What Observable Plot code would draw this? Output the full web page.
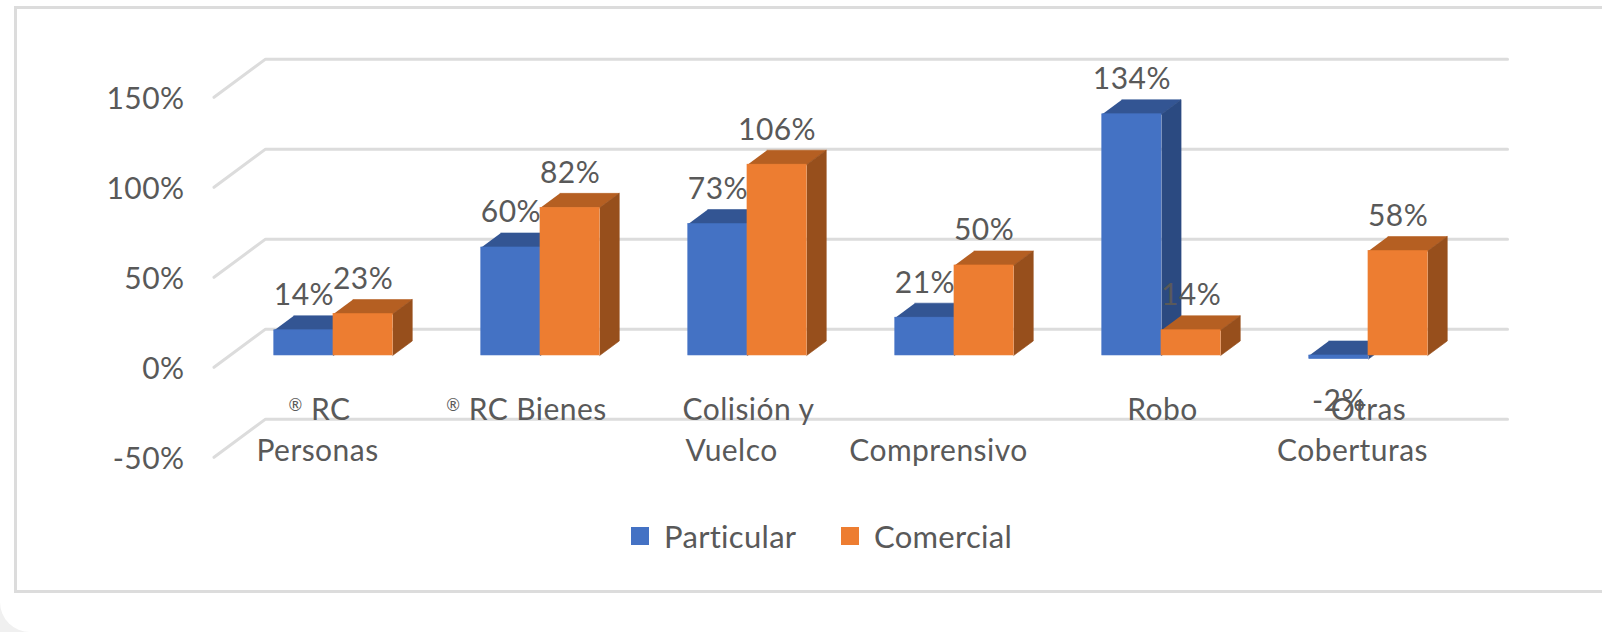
<!DOCTYPE html>
<html lang="es">
<head>
<meta charset="utf-8">
<title>Particular y Comercial por cobertura</title>
<script src="https://cdn.jsdelivr.net/npm/d3@7"></script>
<script src="https://cdn.jsdelivr.net/npm/@observablehq/plot@0.6"></script>
<style>
  html, body { margin: 0; padding: 0; width: 1602px; height: 632px; overflow: hidden; background: #f0f0f0; }
  #wrap { position: relative; width: 1602px; height: 632px; overflow: hidden; font-family: Lato, sans-serif; color: #595959; background: #fff; border-bottom-left-radius: 30px; }
  #frame { position: absolute; left: 14px; top: 6px; width: 1640px; height: 581px; border: 3px solid #dcdcdc; box-sizing: content-box; }
  #chart { position: absolute; left: 0; top: 0; }
  #chart svg { display: block; }
  #chart text { letter-spacing: 0.45px; }
  .key { position: absolute; top: 514px; font-size: 31px; line-height: 44px; white-space: nowrap; letter-spacing: 0.3px; }
  .swatch { position: absolute; top: 527px; width: 18px; height: 18px; }
</style>
</head>
<body>
<div id="wrap">
  <div id="frame"></div>
  <div id="chart"></div>
  <div class="swatch" style="left:631px;background:#4472c4"></div>
  <div class="key" style="left:664px">Particular</div>
  <div class="swatch" style="left:841px;background:#ed7d31"></div>
  <div class="key" style="left:874px">Comercial</div>
</div>
<script>
// Coverage categories, first and second label rows
const coverages = ["RC Personas", "RC Bienes", "Colisión y Vuelco", "Comprensivo", "Robo", "Otras Coberturas"];
const labelRow1 = ["® RC", "® RC Bienes", "Colisión y", "", "Robo", "Otras"];
const labelRow2 = ["Personas", "", "Vuelco", "Comprensivo", "", "Coberturas"];
const row1Nudge = [2, 2, 17, 0, 17, 16];

// Percentage values per series
const particular = [14, 60, 73, 21, 134, -2];
const comercial = [23, 82, 106, 50, 14, 58];
const yTicks = [-50, 0, 50, 100, 150];

const FONT = "Lato, sans-serif";
const FONT_SIZE = 30;
const TEXT = "#595959";
const GRID = "#dcdcdc";

// Oblique projection: depth 0 is the front of the floor, depth 1 the back wall
const DEPTH_X = 0.249;   // category units per full depth
const DEPTH_Y = 21.2;    // percentage points per full depth
const px = (i, d) => i + d * DEPTH_X;
const py = (v, d) => v + d * DEPTH_Y;
const BAR_NEAR = 0.31, BAR_FAR = 0.69, BAR_WIDTH = 0.286;

const series = [
  {name: "Particular", values: particular, offset: -BAR_WIDTH, front: "#4472c4", top: "#335593", side: "#2b4a81"},
  {name: "Comercial", values: comercial, offset: 0, front: "#ed7d31", top: "#b55f22", side: "#974f1c"}
];

// Back wall plus the oblique run on the side wall for every tick
const gridPoints = yTicks.flatMap((v) => [
  {v, x: px(0, 0), y: py(v, 0)},
  {v, x: px(0, 1), y: py(v, 1)},
  {v, x: px(coverages.length, 1), y: py(v, 1)}
]);

function barMarks(s) {
  const cells = s.values.map((v, i) => {
    const c = i + 0.5 + s.offset;
    return {i, v, x1: c, x2: c + BAR_WIDTH, hi: Math.max(v, 0), lo: Math.min(v, 0)};
  });
  const topFace = cells.flatMap((b) => [
    {i: b.i, x: px(b.x1, BAR_NEAR), y: py(b.hi, BAR_NEAR)},
    {i: b.i, x: px(b.x2, BAR_NEAR), y: py(b.hi, BAR_NEAR)},
    {i: b.i, x: px(b.x2, BAR_FAR), y: py(b.hi, BAR_FAR)},
    {i: b.i, x: px(b.x1, BAR_FAR), y: py(b.hi, BAR_FAR)}
  ]);
  const sideFace = cells.flatMap((b) => [
    {i: b.i, x: px(b.x2, BAR_NEAR), y: py(b.hi, BAR_NEAR)},
    {i: b.i, x: px(b.x2, BAR_FAR), y: py(b.hi, BAR_FAR)},
    {i: b.i, x: px(b.x2, BAR_FAR), y: py(b.lo, BAR_FAR)},
    {i: b.i, x: px(b.x2, BAR_NEAR), y: py(b.lo, BAR_NEAR)}
  ]);
  return [
    Plot.line(topFace, {x: "x", y: "y", z: "i", fill: s.top, stroke: s.top, strokeWidth: 0.6}),
    Plot.line(sideFace, {x: "x", y: "y", z: "i", fill: s.side, stroke: s.side, strokeWidth: 0.6}),
    Plot.rect(cells, {
      x1: (b) => px(b.x1, BAR_NEAR), x2: (b) => px(b.x2, BAR_NEAR),
      y1: (b) => py(b.lo, BAR_NEAR), y2: (b) => py(b.hi, BAR_NEAR),
      fill: s.front, stroke: s.front, strokeWidth: 0.6, inset: 0
    })
  ];
}

function valueMarks(s) {
  const cells = s.values.map((v, i) => ({v, x: px(i + 0.5 + s.offset + BAR_WIDTH / 2, BAR_NEAR), y: py(v, BAR_NEAR)}));
  const style = {x: "x", y: "y", text: (d) => `${d.v}%`, fill: TEXT, fontSize: FONT_SIZE, lineAnchor: "bottom", textAnchor: "middle"};
  return [
    Plot.text(cells.filter((d) => d.v >= 0), {...style, dy: -25}),
    Plot.text(cells.filter((d) => d.v < 0), {...style, dy: 52})
  ];
}

const rowStyle = {fill: TEXT, fontSize: FONT_SIZE, lineAnchor: "bottom", textAnchor: "middle", frameAnchor: "bottom"};
const CATEGORY_STEP_PX = 207;

const chart = Plot.plot({
  width: 1602,
  height: 632,
  marginLeft: 213.5,
  marginRight: 146.5,
  marginTop: 96.8,
  marginBottom: 175.2,
  style: {background: "transparent", fontFamily: FONT, overflow: "visible"},
  x: {domain: [0, coverages.length], axis: null},
  y: {domain: [-50, 150], axis: null},
  marks: [
    Plot.line(gridPoints, {x: "x", y: "y", z: "v", stroke: GRID, strokeWidth: 3}),
    series.flatMap(barMarks),
    series.flatMap(valueMarks),
    Plot.axisY({
      ticks: yTicks, tickFormat: (d) => `${d}%`, tickSize: 0, tickPadding: 29.5, dy: 2.5,
      fontSize: FONT_SIZE, color: TEXT, label: null, anchor: "left"
    }),
    Plot.text(labelRow1, {...rowStyle, x: (_, i) => i + 0.5 + row1Nudge[i] / CATEGORY_STEP_PX, text: (d) => d, dy: -37.5}),
    Plot.text(labelRow2, {...rowStyle, x: (_, i) => i + 0.5, text: (d) => d, dy: 4})
  ]
});

// The registered sign sits small and raised in front of its label
d3.select(chart).selectAll("text").each(function () {
  const t = this.textContent;
  if (!t.startsWith("®")) return;
  this.textContent = "";
  const node = d3.select(this);
  node.append("tspan").attr("font-size", "0.55em").attr("dy", "-0.55em").text("®");
  node.append("tspan").attr("dy", "0.3em").text(t.slice(1));
});

document.getElementById("chart").append(chart);
</script>
</body>
</html>
